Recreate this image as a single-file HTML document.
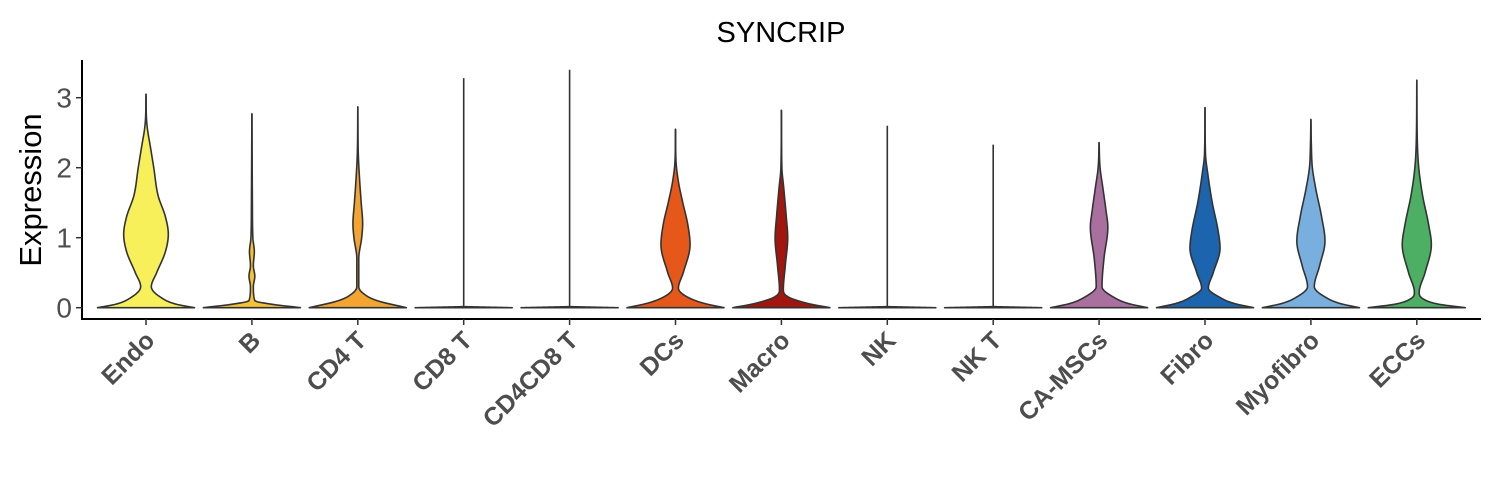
<!DOCTYPE html>
<html><head><meta charset="utf-8">
<style>
html,body{margin:0;padding:0;background:#fff;}
svg{display:block;font-family:"Liberation Sans",Arial,sans-serif;}
</style></head>
<body>
<svg id="chart" width="1500" height="500" viewBox="0 0 1500 500">
<text x="781" y="42" text-anchor="middle" font-size="29" fill="#000">SYNCRIP</text>
<text transform="translate(41,190) rotate(-90)" text-anchor="middle" font-size="31" fill="#000">Expression</text>
<g id="plot"></g>
</svg>
<script>
const categories = ["Endo","B","CD4 T","CD8 T","CD4CD8 T","DCs","Macro","NK","NK T","CA-MSCs","Fibro","Myofibro","ECCs"];
const colors = ["#F7F05A","#F5C237","#F4A431","#ffffff","#ffffff","#E6581A","#A3160F","#ffffff","#ffffff","#A9709F","#1C64AE","#79AFDE","#4CAF63"];
const maxValues = [3.05,2.77,2.87,3.28,3.40,2.55,2.82,2.60,2.33,2.36,2.86,2.69,3.25];
// density profiles: [expression value, relative half-width]
const profileEndo = [[0,1],[0.05,0.62],[0.15,0.3],[0.3,0.11],[0.5,0.22],[0.8,0.4],[1.05,0.46],[1.3,0.4],[1.6,0.25],[2.0,0.16],[2.3,0.09],[2.55,0.03],[2.7,0.01],[3.05,0]];
const profileB = [[0,1],[0.05,0.4],[0.1,0.06],[0.3,0.03],[0.45,0.06],[0.6,0.03],[0.8,0.05],[1.0,0.02],[1.5,0.01],[2.77,0]];
const profileCD4T = [[0,1],[0.1,0.4],[0.2,0.12],[0.3,0.02],[0.7,0.02],[1.0,0.08],[1.2,0.1],[1.5,0.07],[1.8,0.04],[2.2,0.01],[2.87,0]];
const profileFlat = [[0,1],[0.015,0]];
const profileDCs = [[0,1],[0.06,0.6],[0.15,0.25],[0.28,0.06],[0.5,0.16],[0.9,0.3],[1.2,0.25],[1.5,0.15],[1.8,0.06],[2.1,0.01],[2.55,0]];
const profileMacro = [[0,1],[0.06,0.55],[0.15,0.15],[0.25,0.04],[0.6,0.08],[1.0,0.13],[1.3,0.1],[1.7,0.05],[2.0,0.01],[2.82,0]];
const profileCAMSC = [[0,1],[0.06,0.6],[0.15,0.3],[0.3,0.06],[0.7,0.1],[1.15,0.18],[1.4,0.14],[1.7,0.08],[2.0,0.02],[2.36,0]];
const profileFibro = [[0,1],[0.06,0.6],[0.15,0.3],[0.28,0.07],[0.5,0.17],[0.85,0.31],[1.1,0.27],[1.5,0.15],[1.9,0.06],[2.2,0.01],[2.86,0]];
const profileMyo = [[0,1],[0.06,0.6],[0.15,0.3],[0.3,0.07],[0.6,0.18],[0.95,0.29],[1.3,0.22],[1.7,0.1],[2.0,0.03],[2.3,0.01],[2.69,0]];
const profileECC = [[0,1],[0.05,0.45],[0.13,0.12],[0.22,0.05],[0.5,0.17],[0.9,0.3],[1.2,0.24],[1.6,0.12],[2.0,0.04],[2.4,0.01],[3.25,0]];
const profiles = [profileEndo,profileB,profileCD4T,profileFlat,profileFlat,profileDCs,profileMacro,profileFlat,profileFlat,profileCAMSC,profileFibro,profileMyo,profileECC];
const yTicks = [0,1,2,3];

const NS="http://www.w3.org/2000/svg";
const plot=document.getElementById('plot');
const x0=146, step=105.9, maxHalf=48.5;
const xScale=i=>x0+i*step;
const yScale=v=>307.7-v*70;
function mk(tag,attrs){const e=document.createElementNS(NS,tag);for(const k in attrs)e.setAttribute(k,attrs[k]);return e;}
// monotone cubic (Fritsch-Carlson) interpolation
function makeInterp(p){
  const n=p.length,xs=p.map(q=>q[0]),ys=p.map(q=>q[1]);
  if(n<3)return v=>{const t=(v-xs[0])/(xs[1]-xs[0]);return ys[0]+(ys[1]-ys[0])*Math.max(0,Math.min(1,t));};
  const d=[],m=new Array(n);
  for(let i=0;i<n-1;i++)d.push((ys[i+1]-ys[i])/(xs[i+1]-xs[i]));
  m[0]=d[0];m[n-1]=d[n-2];
  for(let i=1;i<n-1;i++)m[i]=(d[i-1]*d[i]<=0)?0:(d[i-1]+d[i])/2;
  for(let i=0;i<n-1;i++){if(d[i]===0){m[i]=0;m[i+1]=0;continue;}const a=m[i]/d[i],b=m[i+1]/d[i],s=a*a+b*b;if(s>9){const t=3/Math.sqrt(s);m[i]=t*a*d[i];m[i+1]=t*b*d[i];}}
  return v=>{
    if(v<=xs[0])return ys[0];if(v>=xs[n-1])return ys[n-1];
    let i=0;while(v>xs[i+1])i++;
    const h=xs[i+1]-xs[i],t=(v-xs[i])/h,t2=t*t,t3=t2*t;
    return Math.max(0,(2*t3-3*t2+1)*ys[i]+(t3-2*t2+t)*h*m[i]+(-2*t3+3*t2)*ys[i+1]+(t3-t2)*h*m[i+1]);
  };
}
const yAxis=mk('line',{x1:82,y1:60,x2:82,y2:319,stroke:'#000','stroke-width':2});


plot.appendChild(yAxis);
const xAxis=mk('line',{x1:81,y1:319,x2:1481,y2:319,stroke:'#000','stroke-width':2});


plot.appendChild(xAxis);
yTicks.forEach(t=>{
  const y=yScale(t);
  const tk=mk('line',{x1:76,y1:y,x2:82,y2:y,stroke:'#333','stroke-width':1.5});
  
  
  plot.appendChild(tk);
  const tl=mk('text',{x:72,y:y+10,'text-anchor':'end','font-size':28,fill:'#4d4d4d'});
  tl.textContent=t;
  
  
  plot.appendChild(tl);
});
categories.forEach((c,i)=>{
  const cx=xScale(i), p=profiles[i], mx=maxValues[i];
  const f=makeInterp(p);
  const top=p[p.length-1][0];
  const pts=[];
  const N=200;
  for(let k=0;k<=N;k++){const v=top*k/N;pts.push([v,f(v)*maxHalf]);}
  let d='M'+(cx-pts[0][1]).toFixed(2)+','+yScale(0).toFixed(2);
  pts.forEach(q=>d+=' L'+(cx-q[1]).toFixed(2)+','+yScale(q[0]).toFixed(2));
  for(let k=pts.length-1;k>=0;k--)d+=' L'+(cx+pts[k][1]).toFixed(2)+','+yScale(pts[k][0]).toFixed(2);
  d+=' Z';
  const vline=mk('line',{x1:cx,y1:yScale(0),x2:cx,y2:yScale(mx),stroke:'#333','stroke-width':1.6});
  
  
  plot.appendChild(vline);
  const path=mk('path',{d:d,fill:colors[i],stroke:'#333','stroke-width':1.6,'stroke-linejoin':'round'});
  
  
  plot.appendChild(path);
  const tk=mk('line',{x1:cx,y1:319,x2:cx,y2:325,stroke:'#333','stroke-width':1.5});
  
  
  plot.appendChild(tk);
  const lb=mk('text',{x:0,y:0,transform:`translate(${cx+10},${342}) rotate(-45)`,'text-anchor':'end','font-size':25,'font-weight':'bold',fill:'#4d4d4d'});
  lb.textContent=c;
  
  
  plot.appendChild(lb);
});
</script>
</body></html>
